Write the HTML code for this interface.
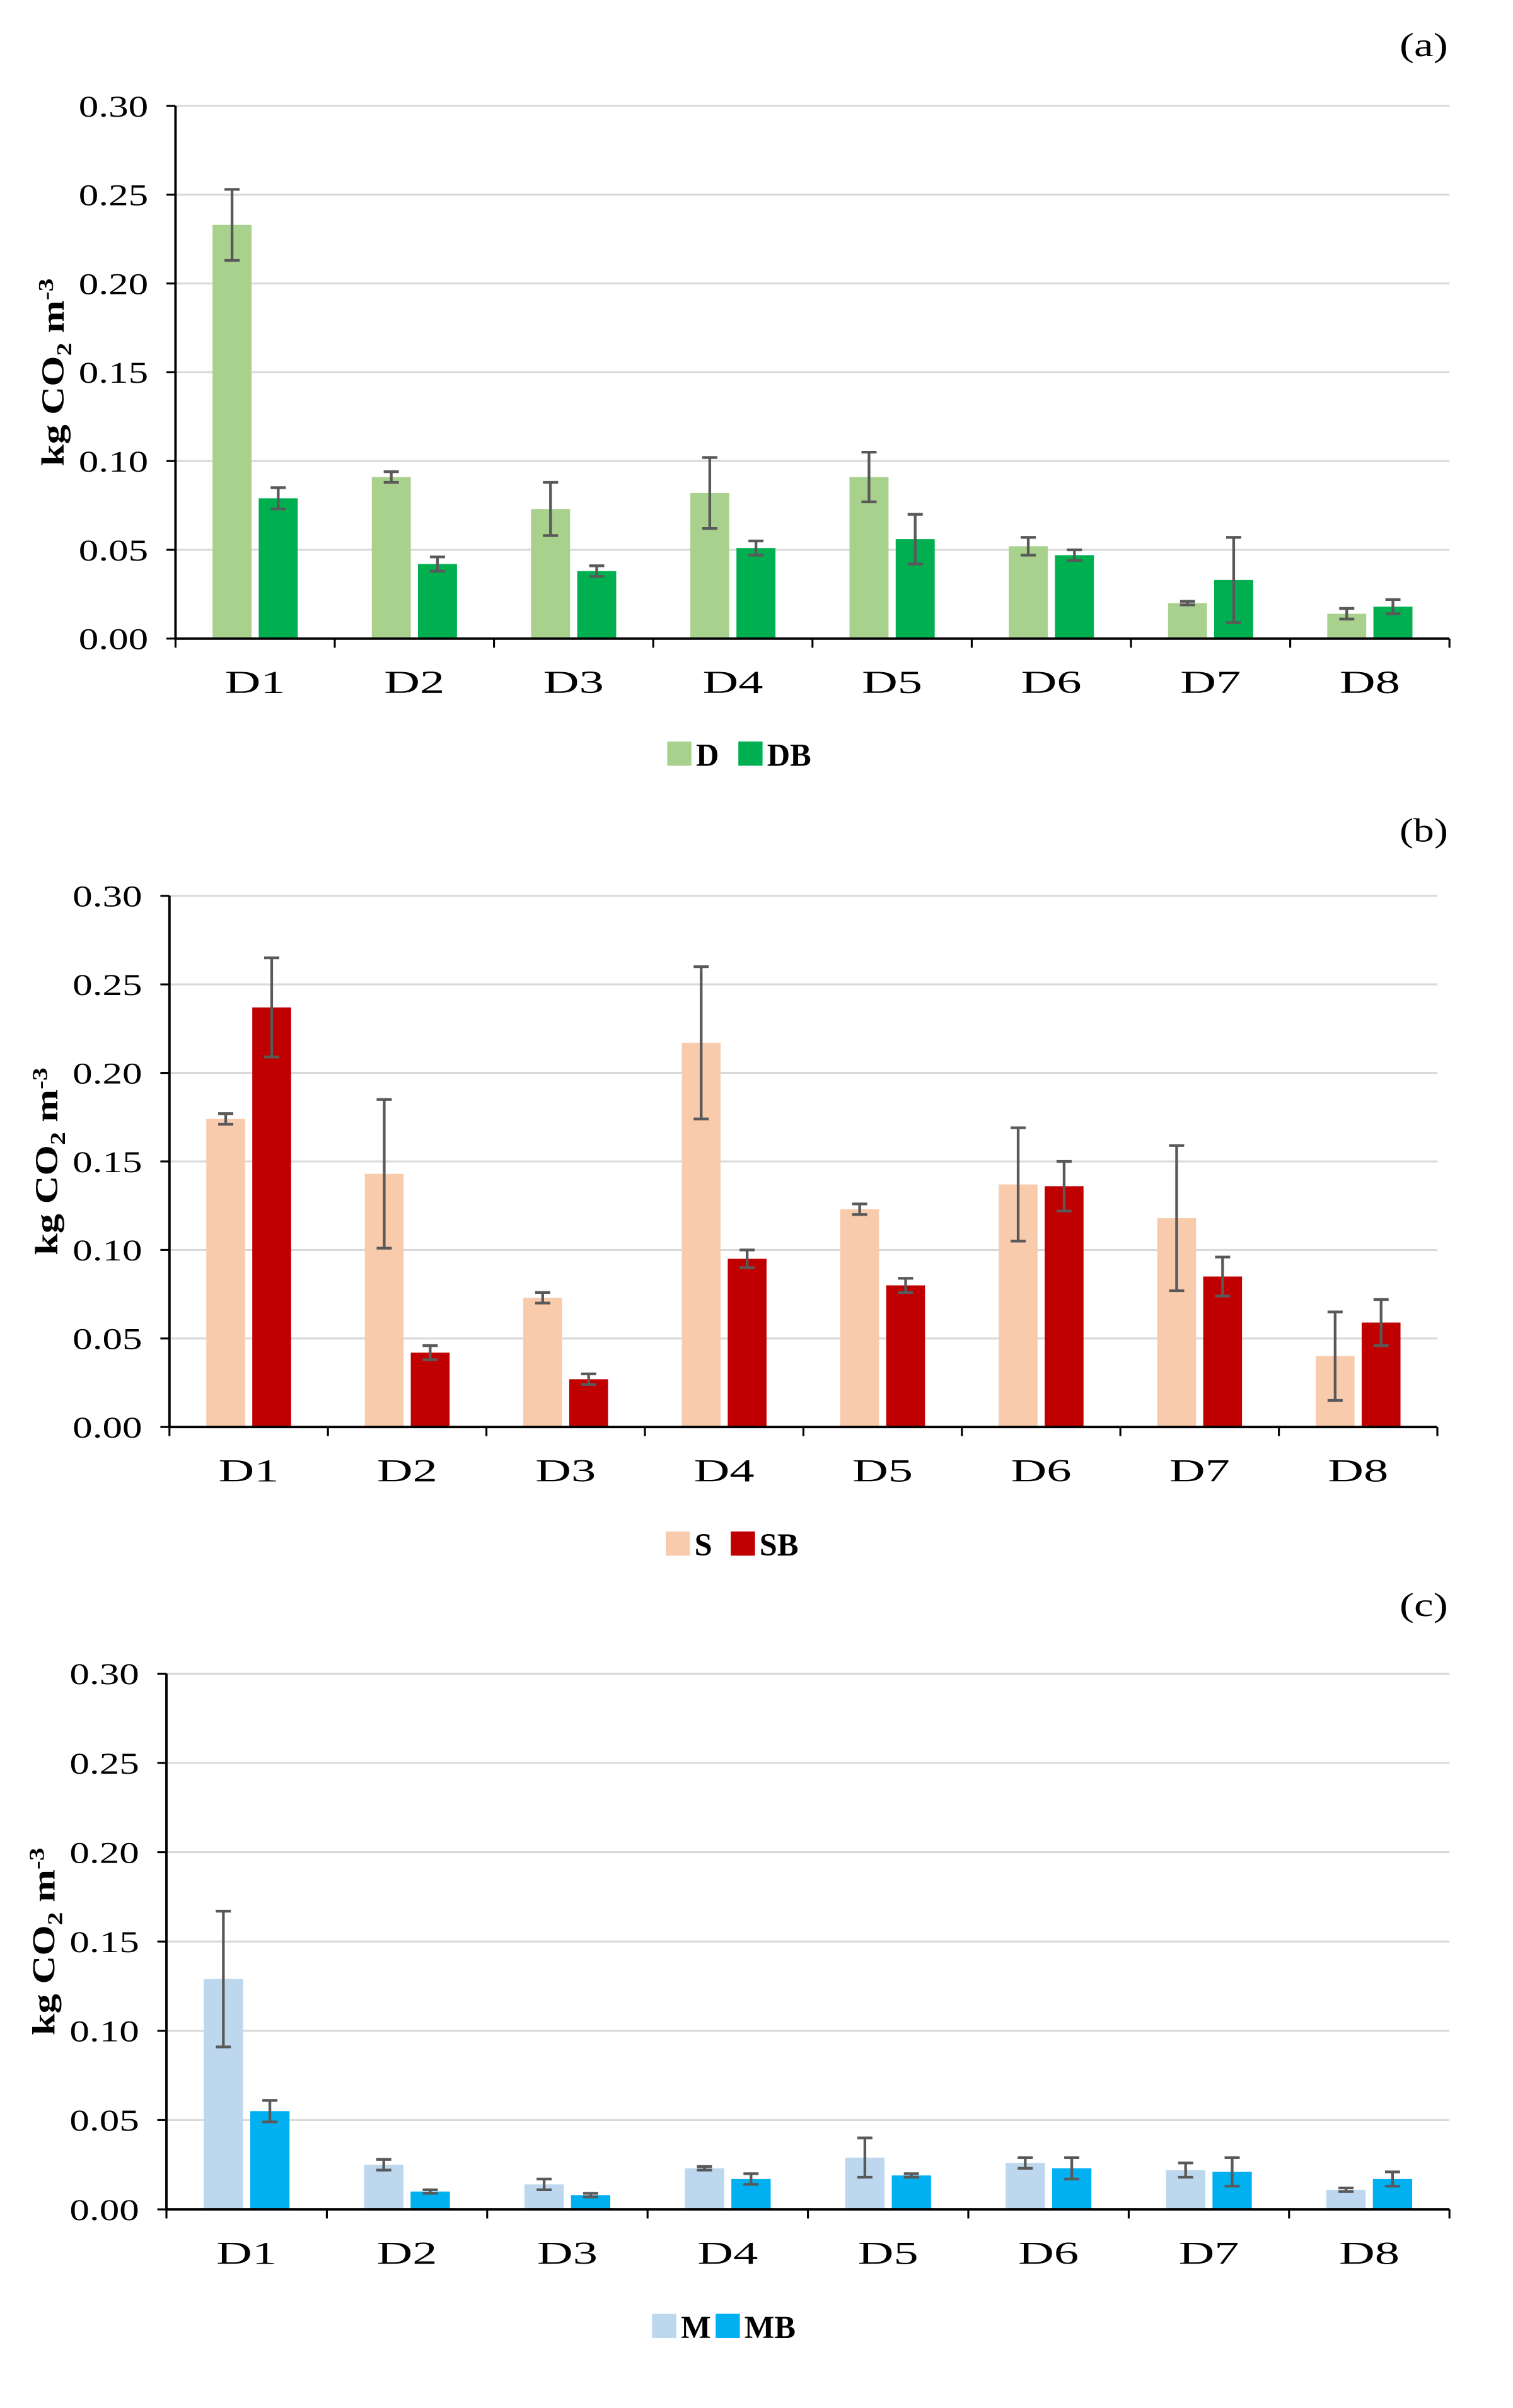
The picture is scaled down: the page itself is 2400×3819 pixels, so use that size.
<!DOCTYPE html>
<html><head><meta charset="utf-8"><style>
html,body{margin:0;padding:0;background:#fff}
svg{display:block}
text{font-family:"Liberation Serif",serif;fill:#000}
</style></head><body>
<svg id="chart" width="2400" height="3819" viewBox="0 0 1000 1591.25" xmlns="http://www.w3.org/2000/svg"></svg>
<script>
const categories=["D1","D2","D3","D4","D5","D6","D7","D8"];
const ticks=[0,0.05,0.10,0.15,0.20,0.25,0.30];
const tickLabels=["0.00","0.05","0.10","0.15","0.20","0.25","0.30"];
const aNames=["D","DB"];
const aD=[0.233,0.091,0.073,0.082,0.091,0.052,0.020,0.014];
const aDerr=[0.020,0.003,0.015,0.020,0.014,0.005,0.001,0.003];
const aDB=[0.079,0.042,0.038,0.051,0.056,0.047,0.033,0.018];
const aDBerr=[0.006,0.004,0.003,0.004,0.014,0.003,0.024,0.004];
const bNames=["S","SB"];
const bS=[0.174,0.143,0.073,0.217,0.123,0.137,0.118,0.040];
const bSerr=[0.003,0.042,0.003,0.043,0.003,0.032,0.041,0.025];
const bSB=[0.237,0.042,0.027,0.095,0.080,0.136,0.085,0.059];
const bSBerr=[0.028,0.004,0.003,0.005,0.004,0.014,0.011,0.013];
const cNames=["M","MB"];
const cM=[0.129,0.025,0.014,0.023,0.029,0.026,0.022,0.011];
const cMerr=[0.038,0.003,0.003,0.001,0.011,0.003,0.004,0.001];
const cMB=[0.055,0.010,0.008,0.017,0.019,0.023,0.021,0.017];
const cMBerr=[0.006,0.001,0.001,0.003,0.001,0.006,0.008,0.004];

const svg=document.getElementById('chart');
const NS="http://www.w3.org/2000/svg";
function mk(tag,attrs,parent){const e=document.createElementNS(NS,tag);for(const k in attrs)e.setAttribute(k,attrs[k]);(parent||svg).appendChild(e);return e;}

function panel(p){
  const g=mk('g',{});
  
  
  const y=v=>p.y0-(v/0.30)*(p.y0-p.y30);
  const cw=(p.x1-p.x0)/categories.length;
  const x=i=>p.x0+cw*(i+0.5);
  ticks.forEach((t,i)=>{
    if(i>0){const gl=mk('line',{x1:p.x0,x2:p.x1,y1:y(t),y2:y(t),stroke:'#d9d9d9','stroke-width':1.3},g);
      }
    const tk=mk('line',{x1:p.x0-6,x2:p.x0,y1:y(t),y2:y(t),stroke:'#000','stroke-width':1.3},g);
    
    const tl=mk('text',{x:p.x0-64,y:y(t)+7,'font-size':20,textLength:46,lengthAdjust:'spacingAndGlyphs'},g);
    tl.textContent=tickLabels[i];
    
  });
  const bw=cw*0.245,gap=cw*0.045;
  const series=[[p.v1,p.e1,p.c1],[p.v2,p.e2,p.c2]];
  categories.forEach((c,i)=>{
    series.forEach((s,j)=>{
      const bx=x(i)-gap/2-bw+j*(bw+gap);
      const r=mk('rect',{x:bx,y:y(s[0][i]),width:bw,height:y(0)-y(s[0][i]),fill:s[2]},g);
      
      
      const cx=bx+bw/2,hi=y(s[0][i]+s[1][i]),lo=y(s[0][i]-s[1][i]);
      const eb=mk('path',{d:`M${cx},${hi}V${lo}M${cx-5},${hi}H${cx+5}M${cx-5},${lo}H${cx+5}`,stroke:'#595959','stroke-width':1.8,fill:'none'},g);
      
    });
    const xl=mk('text',{x:x(i)-20,y:y(0)+36,'font-size':21,textLength:40,lengthAdjust:'spacingAndGlyphs'},g);
    xl.textContent=c;
    
  });
  for(let i=0;i<=categories.length;i++){
    const tk=mk('line',{x1:p.x0+cw*i,x2:p.x0+cw*i,y1:y(0),y2:y(0)+6,stroke:'#000','stroke-width':1.3},g);
    
  }
  const ya=mk('line',{x1:p.x0,x2:p.x0,y1:p.y30,y2:y(0),stroke:'#000','stroke-width':1.6},g);
  
  const xa=mk('line',{x1:p.x0,x2:p.x1,y1:y(0),y2:y(0),stroke:'#000','stroke-width':1.6},g);
  
  const mid=(p.y30+y(0))/2;
  const tt=mk('text',{x:-62,y:0,transform:`translate(${p.tx},${mid}) rotate(-90)`,'font-size':21,'font-weight':'bold',textLength:124,lengthAdjust:'spacingAndGlyphs'},g);
  tt.innerHTML='kg CO<tspan font-size="14" dy="5">2</tspan><tspan dy="-5"> m</tspan><tspan font-size="14" dy="-7">-3</tspan>';
  
  const pl=mk('text',{x:925,y:p.ly,'font-size':22,textLength:32,lengthAdjust:'spacingAndGlyphs'},g);
  pl.textContent='('+p.id+')';
  
  [[p.lx1,p.c1,p.names[0]],[p.lx2,p.c2,p.names[1]]].forEach(l=>{
    const sq=mk('rect',{x:l[0],y:p.legY-8,width:16,height:16,fill:l[1]},g);
    
    const lt=mk('text',{x:l[0]+19,y:p.legY+8,'font-size':21,'font-weight':'bold'},g);
    lt.textContent=l[2];
    
  });
}
panel({id:'a',x0:116,x1:958,y30:70,y0:422,tx:42,ly:37,legY:498,lx1:441,lx2:488,names:aNames,v1:aD,e1:aDerr,v2:aDB,e2:aDBerr,c1:'#a9d18e',c2:'#00b050'});
panel({id:'b',x0:112,x1:950,y30:592,y0:943,tx:38,ly:556,legY:1020,lx1:440,lx2:483,names:bNames,v1:bS,e1:bSerr,v2:bSB,e2:bSBerr,c1:'#f8cbad',c2:'#c00000'});
panel({id:'c',x0:110,x1:958,y30:1106,y0:1460,tx:36,ly:1068,legY:1537,lx1:431,lx2:473,names:cNames,v1:cM,e1:cMerr,v2:cMB,e2:cMBerr,c1:'#bdd7ee',c2:'#00b0f0'});
</script>
</body></html>
